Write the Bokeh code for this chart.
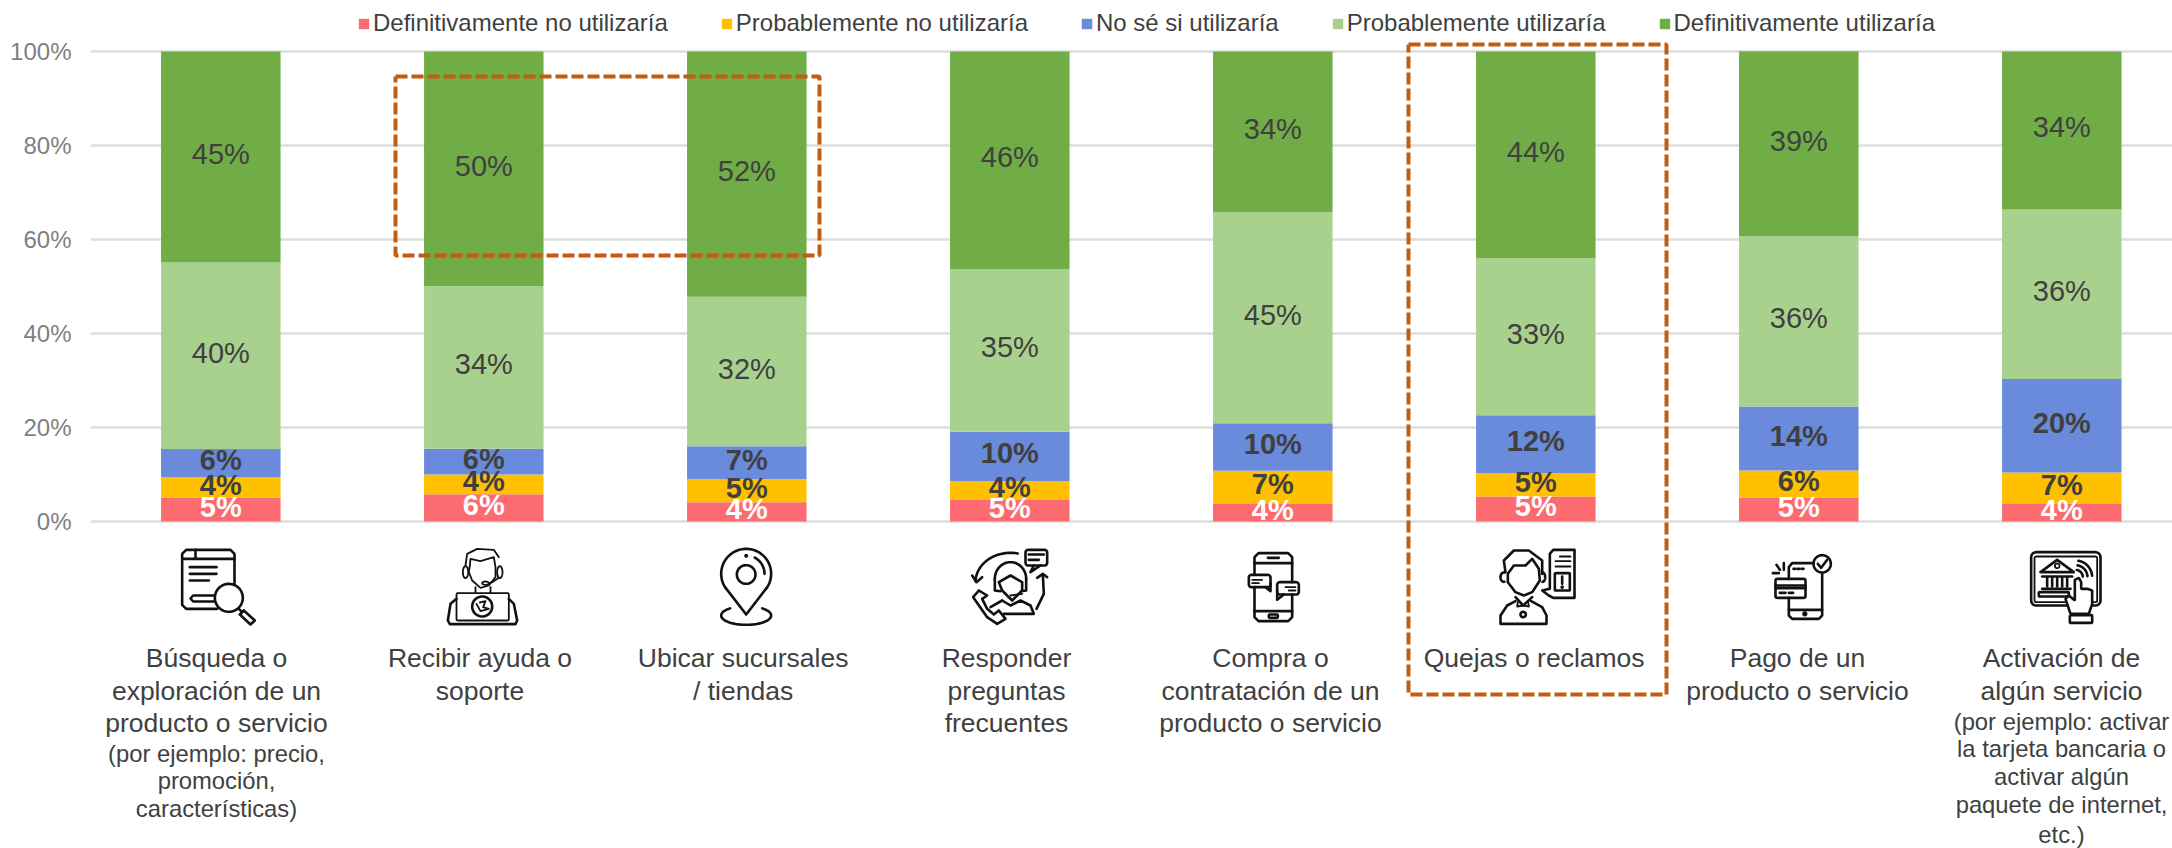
import numpy as np
from bokeh.core.properties import value
from bokeh.embed import file_html
from bokeh.models import ColumnDataSource, FixedTicker, Legend, LegendItem, Range1d
from bokeh.plotting import figure
from bokeh.resources import INLINE

# ---------- data ----------
categories = ["Búsqueda", "Ayuda", "Sucursales", "Preguntas", "Compra", "Quejas", "Pago", "Activación"]
series_names = ["Definitivamente no utilizaría", "Probablemente no utilizaría", "No sé si utilizaría",
                "Probablemente utilizaría", "Definitivamente utilizaría"]
def_no = [5.05, 5.8, 4.1, 4.6, 3.7, 5.3, 5.05, 3.7]
prob_no = [4.35, 4.2, 4.9, 4.0, 7.1, 5.0, 5.8, 6.7]
no_se = [6.0, 5.5, 7.0, 10.5, 10.1, 12.3, 13.6, 19.9]
prob_si = [39.7, 34.6, 31.8, 34.6, 44.9, 33.4, 36.3, 36.1]
def_si = [44.9, 49.9, 52.2, 46.3, 34.2, 44.0, 39.3, 33.6]
label_def_no = ["5%", "6%", "4%", "5%", "4%", "5%", "5%", "4%"]
label_prob_no = ["4%", "4%", "5%", "4%", "7%", "5%", "6%", "7%"]
label_no_se = ["6%", "6%", "7%", "10%", "10%", "12%", "14%", "20%"]
label_prob_si = ["40%", "34%", "32%", "35%", "45%", "33%", "36%", "36%"]
label_def_si = ["45%", "50%", "52%", "46%", "34%", "44%", "39%", "34%"]
tick_values = [0, 20, 40, 60, 80, 100]
tick_labels = ["0%", "20%", "40%", "60%", "80%", "100%"]
cat_main = [["Búsqueda o", "exploración de un", "producto o servicio"], ["Recibir ayuda o", "soporte"],
            ["Ubicar sucursales", "/ tiendas"], ["Responder", "preguntas", "frecuentes"],
            ["Compra o", "contratación de un", "producto o servicio"], ["Quejas o reclamos"],
            ["Pago de un", "producto o servicio"], ["Activación de", "algún servicio"]]
cat_sub = [["(por ejemplo: precio,", "promoción,", "características)"], [], [], [], [], [], [],
           ["(por ejemplo: activar", "la tarjeta bancaria o", "activar algún", "paquete de internet,", "etc.)"]]
colors = ["#FC6B70", "#FFC000", "#6A8BDC", "#A9D18E", "#70AD47"]

# ---------- layout in picture pixels ----------
W, H = 2172, 848
L_PX, T_PX, B_PX = 90, 0, H
X0, PITCH, Y0, Y100 = 220.3, 263.0, 521.0, 51.0
FONT = value("Liberation Sans")

def X(px):
    return (np.asarray(px, dtype=float) - X0) / PITCH

def Y(py):
    return (Y0 - np.asarray(py, dtype=float)) / (Y0 - Y100) * 100

p = figure(width=W, height=H, output_backend="svg", toolbar_location=None,
           x_range=Range1d(float(X(L_PX)), float(X(W))), y_range=Range1d(float(Y(B_PX)), float(Y(T_PX))),
           min_border_left=L_PX, min_border_right=0, min_border_top=0, min_border_bottom=0,
           outline_line_color=None, background_fill_color="white", border_fill_color="white")
p.xaxis.visible = False
p.xgrid.visible = False
p.ygrid.ticker = FixedTicker(ticks=tick_values)
p.ygrid.grid_line_color = "#DDDDDD"
p.ygrid.grid_line_width = 2.5
ax = p.yaxis[0]
ax.ticker = FixedTicker(ticks=tick_values)
ax.major_label_overrides = dict(zip(tick_values, tick_labels))
ax.axis_line_color = None
ax.major_tick_line_color = None
ax.minor_tick_line_color = None
ax.major_tick_out = 0
ax.major_tick_in = 0
ax.minor_tick_out = 0
ax.major_label_standoff = 19
ax.major_label_text_font = "Liberation Sans"
ax.major_label_text_font_size = "24px"
ax.major_label_text_color = "#7F7F7F"

# ---------- bars ----------
idx = list(range(len(categories)))
data = dict(x=idx, def_no=def_no, prob_no=prob_no, no_se=no_se, prob_si=prob_si, def_si=def_si)
keys = ["def_no", "prob_no", "no_se", "prob_si", "def_si"]
rs = p.vbar_stack(keys, x="x", width=119.5 / PITCH, color=colors, source=ColumnDataSource(data), line_width=0)

legend = Legend(items=[LegendItem(label=n, renderers=[r]) for n, r in zip(series_names, rs)],
                orientation="horizontal", location=(357 - L_PX, H - 37), padding=0, margin=0, spacing=52,
                glyph_width=13, glyph_height=13, label_standoff=3, border_line_color=None,
                background_fill_alpha=0, label_text_font="Liberation Sans", label_text_font_size="24px",
                label_text_color="#404040")
p.add_layout(legend)

# ---------- value labels ----------
labels = [label_def_no, label_prob_no, label_no_se, label_prob_si, label_def_si]
series = [def_no, prob_no, no_se, prob_si, def_si]
styles = [("white", "bold"), ("#404040", "bold"), ("#404040", "bold"), ("#404040", "normal"), ("#404040", "normal")]
base = np.zeros(len(idx))
for vals, labs, (col, wt) in zip(series, labels, styles):
    v = np.array(vals)
    p.text(idx, base + v / 2, text=labs, text_align="center", text_baseline="middle", text_color=col,
           text_font=FONT, text_font_style=wt, text_font_size="29px", y_offset=-3)
    base = base + v

# ---------- category captions ----------
main_cx = [216, 479.5, 742.6, 1006, 1270, 1533.6, 1797, 2061]
main_y = [657, 690, 722]
sub_y = {0: [753, 780, 808], 7: [721, 748, 776, 804, 834]}
tx, ty, tt = [], [], []
sx, sy, st = [], [], []
for i, lines in enumerate(cat_main):
    for j, t in enumerate(lines):
        tx.append(main_cx[i]); ty.append(main_y[j]); tt.append(t)
    for j, t in enumerate(cat_sub[i]):
        sx.append(main_cx[i]); sy.append(sub_y[i][j]); st.append(t)
p.text(X(tx), Y(ty), text=tt, text_align="center", text_baseline="middle", text_color="#404040",
       text_font=FONT, text_font_size="26.5px")
p.text(X(sx), Y(sy), text=st, text_align="center", text_baseline="middle", text_color="#404040",
       text_font=FONT, text_font_size="23.8px")

# ---------- dashed highlight frames ----------
for x0, x1, y0, y1 in [(395, 819, 76, 255), (1408, 1666, 44, 694)]:
    p.line(X([x0, x1, x1, x0, x0]), Y([y0, y0, y1, y1, y0]), line_color="#C55A11", line_width=4, line_dash="12 4")

# ---------- pictograms (decorative line drawings, coordinates from 3x crops) ----------
PATHS = {2.6: [], 1.8: []}

def ln(ox, pts, w=2.6):
    a = np.array(pts, dtype=float)
    PATHS[w].append((ox + a[:, 0] / 3, 540 + a[:, 1] / 3))

def arc(ox, cx, cy, rx, ry=None, a0=0, a1=360, w=2.6):
    ry = rx if ry is None else ry
    t = np.radians(np.linspace(a0, a1, 40))
    ln(ox, np.c_[cx + rx * np.cos(t), cy - ry * np.sin(t)], w)

def rr(ox, x0, y0, x1, y1, r=8, w=2.6):
    pts = []
    for cx, cy, a in [(x1 - r, y0 + r, 90), (x0 + r, y0 + r, 180), (x0 + r, y1 - r, 270), (x1 - r, y1 - r, 360)]:
        for t in np.radians(np.linspace(a - 90, a, 6)):
            pts.append((cx + r * np.cos(t), cy - r * np.sin(t)))
    pts.append(pts[0])
    ln(ox, pts, w)

# 1 search
o = 160
ln(o, [(222, 130), (222, 40), (210, 28), (77, 28), (65, 40), (65, 193), (77, 205), (170, 205)])
ln(o, [(65, 55), (222, 55)]); ln(o, [(105, 28), (105, 55)])
ln(o, [(88, 80), (168, 80)]); ln(o, [(88, 100), (168, 100)]); ln(o, [(88, 120), (145, 120)])
ln(o, [(163, 165), (98, 165), (90, 174), (98, 183), (163, 183)])
arc(o, 205, 172, 42)
ln(o, [(235, 205), (245, 215)])
ln(o, [(250, 210), (283, 240), (270, 252), (238, 222), (250, 210)])
# 2 support
ln(o, [(915, 75), (920, 40), (950, 25), (1000, 28), (1015, 50)], 1.8)
ln(o, [(928, 75), (930, 55), (960, 62), (1000, 50), (1005, 80), (1005, 110), (985, 135), (960, 142), (935, 120), (925, 95), (928, 75)], 1.8)
arc(o, 915, 95, 8, 18, w=1.8); arc(o, 1018, 95, 8, 18, w=1.8)
ln(o, [(1015, 112), (995, 125), (985, 128)], 1.8); arc(o, 975, 128, 10, 5, w=1.8)
ln(o, [(945, 140), (945, 158)], 1.8); ln(o, [(990, 140), (990, 158)], 1.8)
rr(o, 888, 158, 1045, 240, 4, 1.8)
arc(o, 965, 198, 30, w=2.6)
ln(o, [(948, 190), (960, 212), (985, 205), (968, 200), (975, 182), (958, 186)], 1.8)
ln(o, [(888, 175), (870, 190), (862, 240), (868, 251), (1065, 251), (1070, 240), (1060, 190), (1045, 175)], 2.6)
# 3 pin
o = 700
arc(o, 137, 100, 75, 75, -35, 215)
ln(o, [(76, 143), (137, 222), (198, 143)])
arc(o, 137, 102, 28)
arc(o, 137, 100, 55, 55, 0, 62)
arc(o, 137, 46, 2)
arc(o, 137, 225, 75, 28, 130, 410)
# 4 answer
arc(o, 930, 115, 47, 50, 0, 180)
ln(o, [(883, 115), (883, 150), (900, 152)]); ln(o, [(977, 115), (977, 150), (962, 152)])
ln(o, [(895, 125), (930, 105), (965, 125), (965, 150), (935, 180), (905, 150), (895, 125)])
ln(o, [(905, 180), (870, 200)]); ln(o, [(905, 180), (930, 195), (960, 180), (990, 195), (1000, 220), (910, 220)])
ln(o, [(965, 160), (930, 165)], 1.8)
arc(o, 930, 125, 105, 88, 78, 178)
ln(o, [(815, 105), (828, 125), (845, 110)])
ln(o, [(1008, 205), (1030, 160), (1027, 103)]); ln(o, [(1010, 112), (1027, 100), (1040, 110)])
rr(o, 975, 28, 1040, 75, 8); ln(o, [(1000, 75), (990, 95), (1020, 75)])
ln(o, [(985, 42), (1030, 42)]); ln(o, [(985, 58), (1015, 58)])
ln(o, [(835, 150), (818, 170), (860, 230), (890, 250), (915, 235), (895, 210), (880, 222), (860, 205), (845, 175), (860, 165), (835, 150)])
# 5 chat phone
o = 1220
ln(o, [(102, 103), (102, 50), (114, 38), (203, 38), (215, 50), (215, 125)])
ln(o, [(102, 140), (102, 230), (114, 242), (203, 242), (215, 230), (215, 162)])
ln(o, [(102, 68), (215, 68)]); ln(o, [(102, 212), (215, 212)])
ln(o, [(142, 52), (175, 52)]); rr(o, 145, 222, 172, 232, 3)
rr(o, 85, 103, 150, 140, 8); ln(o, [(135, 140), (150, 152), (150, 130)])
ln(o, [(95, 118), (125, 118)], 1.8); ln(o, [(95, 128), (115, 128)], 1.8)
rr(o, 170, 125, 235, 162, 8); ln(o, [(170, 150), (170, 178), (190, 162)])
ln(o, [(195, 140), (225, 140)], 1.8); ln(o, [(205, 150), (225, 150)], 1.8)
# 6 complaint
ln(o, [(855, 95), (850, 60), (880, 30), (925, 30), (965, 60), (965, 100)])
ln(o, [(862, 100), (880, 75), (915, 75), (935, 55), (955, 85), (958, 120), (935, 155), (910, 165), (885, 155), (862, 125), (862, 100)])
arc(o, 850, 110, 10, 14, 80, 280); arc(o, 966, 110, 8, 14, -90, 90)
ln(o, [(885, 170), (908, 195), (935, 170)]); ln(o, [(892, 185), (890, 198), (908, 195), (925, 198), (923, 185)], 1.8)
ln(o, [(885, 182), (860, 195), (840, 225), (840, 250), (978, 250), (978, 225), (965, 200), (932, 182)])
arc(o, 908, 222, 8)
ln(o, [(988, 145), (988, 40), (998, 28), (1062, 28), (1062, 172), (998, 172), (985, 165), (965, 150), (988, 145)])
ln(o, [(1018, 48), (1050, 48)], 1.8); ln(o, [(1005, 62), (1050, 62)], 1.8); ln(o, [(1005, 78), (1050, 78)], 1.8)
rr(o, 1003, 98, 1048, 150, 2); ln(o, [(1025, 108), (1025, 130)], 2.6); arc(o, 1025, 140, 1.5)
# 7 pay
o = 1740
ln(o, [(145, 115), (145, 80), (155, 68), (220, 68)])
ln(o, [(245, 98), (245, 225), (235, 235), (155, 235), (145, 225), (145, 172)])
ln(o, [(145, 208), (245, 208)]); arc(o, 193, 220, 4)
arc(o, 245, 70, 26); ln(o, [(232, 70), (242, 82), (260, 58)])
rr(o, 105, 115, 195, 172, 5); ln(o, [(105, 135), (195, 135)]); ln(o, [(105, 143), (195, 143)])
ln(o, [(118, 157), (135, 157)]); ln(o, [(145, 157), (158, 157)])
for dx in (162, 174, 186):
    ln(o, [(dx - 3, 85), (dx + 3, 85)])
ln(o, [(130, 68), (130, 88)]); ln(o, [(108, 73), (118, 88)]); ln(o, [(97, 98), (115, 98)])
# 8 activation
rr(o, 872, 35, 1080, 195, 15, 2.6); rr(o, 882, 48, 1070, 185, 5, 1.8)
ln(o, [(900, 95), (950, 58), (1000, 95), (900, 95)]); arc(o, 950, 76, 7, w=1.8)
ln(o, [(905, 108), (995, 108)])
for cx in (920, 935, 950, 965, 980):
    ln(o, [(cx, 112), (cx, 138)], 2.6)
ln(o, [(905, 145), (990, 145)]); rr(o, 895, 155, 985, 168, 2)
for r in (22, 36, 50):
    arc(o, 1005, 110, r, r, 5, 80)

hand = np.array([(1003, 170), (1003, 118), (1015, 112), (1022, 125), (1022, 145), (1040, 145), (1055, 150),
                 (1055, 190), (1045, 220), (990, 220), (975, 175), (985, 165), (1003, 180)], dtype=float)

for w, paths in PATHS.items():
    p.multi_line([X(a).tolist() for a, _ in paths], [Y(b).tolist() for _, b in paths],
                 line_color="#111111", line_width=w, line_join="round", line_cap="round")
p.patch(X(o + hand[:, 0] / 3), Y(540 + hand[:, 1] / 3), fill_color="white", line_color="#111111", line_width=2.6)
ln_x = o + np.array([988, 1055, 1055, 988, 988]) / 3
ln_y = 540 + np.array([224, 224, 247, 247, 224]) / 3
p.line(X(ln_x), Y(ln_y), line_color="#111111", line_width=2.6)

open("out.html", "w").write(file_html(p, INLINE))
